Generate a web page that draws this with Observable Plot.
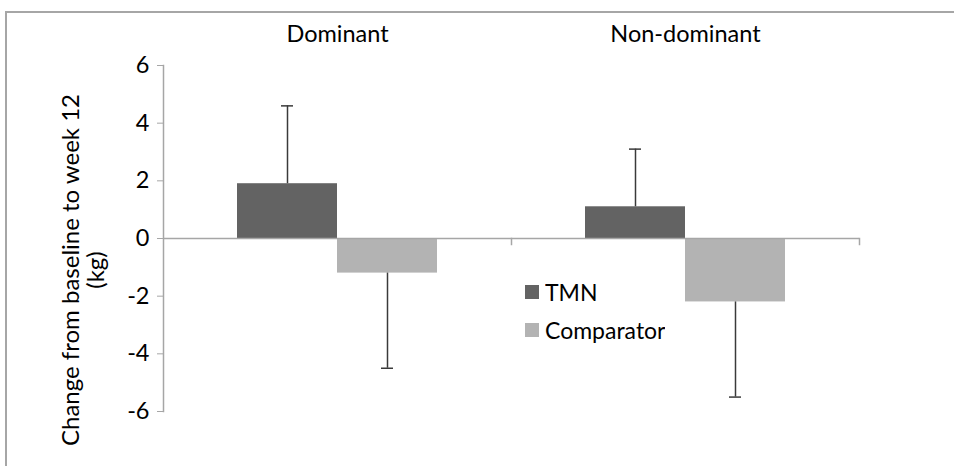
<!DOCTYPE html>
<html><head><meta charset="utf-8">
<script src="https://cdn.jsdelivr.net/npm/d3@7"></script>
<script src="https://cdn.jsdelivr.net/npm/@observablehq/plot@0.6"></script>
<style>
body{margin:0;background:#fff;font-family:Lato,sans-serif;}
#wrap{position:relative;width:954px;height:466px;overflow:hidden;background:#fff}
#border{position:absolute;left:5px;top:11px;width:1000px;height:1000px;border-left:2px solid #a6a6a6;border-top:2px solid #a6a6a6;}
#chart{position:absolute;left:0;top:0}
#ytitle{position:absolute;left:82px;top:270px;transform:translate(-50%,-50%) rotate(-90deg);text-align:center;font-size:24px;line-height:25px;white-space:nowrap;color:#000;font-family:Lato,sans-serif}
#legend{position:absolute;left:525px;top:273px;}
#legend > div > div{height:38px;display:flex;align-items:center;padding:0}
#legend svg{margin-right:6px !important}
</style></head><body>
<div id="wrap"><div id="border"></div><div id="chart"></div><div id="ytitle"></div><div id="legend"></div></div>
<script>
// ---- data ----
const groups = ["Dominant", "Non-dominant"];
const series = ["TMN", "Comparator"];
const tmnMean = [1.9, 1.1];
const tmnErrEnd = [4.6, 3.1];
const compMean = [-1.2, -2.2];
const compErrEnd = [-4.5, -5.5];
const yTicks = [-6, -4, -2, 0, 2, 4, 6];
const yTitleLines = ["Change from baseline to week 12", "(kg)"];
const colors = ["#636363", "#b3b3b3"];

// ---- table ----
const rows = groups.flatMap((g, i) => [
  {group: g, series: series[0], value: tmnMean[i], end: tmnErrEnd[i]},
  {group: g, series: series[1], value: compMean[i], end: compErrEnd[i]}
]);

const W = 954, H = 466, mL = 163, mR = 95, mT = 65, mB = 55;
const yDomain = [d3.min(yTicks), d3.max(yTicks)];
const innerH = H - mT - mB;
const zeroFromTop = innerH * (yDomain[1] - 0) / (yDomain[1] - yDomain[0]);
const axisColor = "#a6a6a6";
const errColor = "#3a3a3a";

const chart = Plot.plot({
  width: W, height: H,
  marginLeft: mL, marginRight: mR, marginTop: mT, marginBottom: mB,
  style: {fontFamily: "Lato, sans-serif", fontSize: "23.5px", color: "#000", background: "transparent"},
  fx: {domain: groups, padding: 0},
  x: {domain: series, paddingInner: 0, paddingOuter: 0.74, axis: null},
  y: {domain: yDomain, ticks: yTicks},
  color: {domain: series, range: colors},
  marks: [
    Plot.frame({anchor: "left", stroke: axisColor, strokeWidth: 1.5, fx: groups[0]}),
    Plot.frame({anchor: "right", stroke: axisColor, strokeWidth: 1.5, insetTop: zeroFromTop, insetBottom: innerH - zeroFromTop - 6}),
    Plot.barY(rows, {fx: "group", x: "series", y: "value", fill: "series"}),
    Plot.ruleY([0], {stroke: axisColor, strokeWidth: 1.5}),
    Plot.ruleX(rows, {fx: "group", x: "series", y1: "value", y2: "end", stroke: errColor, strokeWidth: 1.5}),
    Plot.tickY(rows, {fx: "group", x: "series", y: "end", stroke: errColor, strokeWidth: 1.5, insetLeft: 44, insetRight: 44}),
    Plot.axisY({ticks: yTicks, tickSize: 6, tickPadding: 8, stroke: axisColor, fill: "#000", label: null, tickFormat: d => String(d)}),
    Plot.axisFx({anchor: "top", tickSize: 0, tickPadding: 24, label: null, fill: "#000"})
  ]
});
document.getElementById("chart").appendChild(chart);

document.getElementById("ytitle").innerHTML = yTitleLines.join("<br>");

const legend = Plot.legend({
  color: {domain: series, range: colors},
  legend: "swatches", swatchSize: 14, columns: 1,
  style: {fontFamily: "Lato, sans-serif", fontSize: "23px", color: "#000"}
});
document.getElementById("legend").appendChild(legend);
</script>
</body></html>
